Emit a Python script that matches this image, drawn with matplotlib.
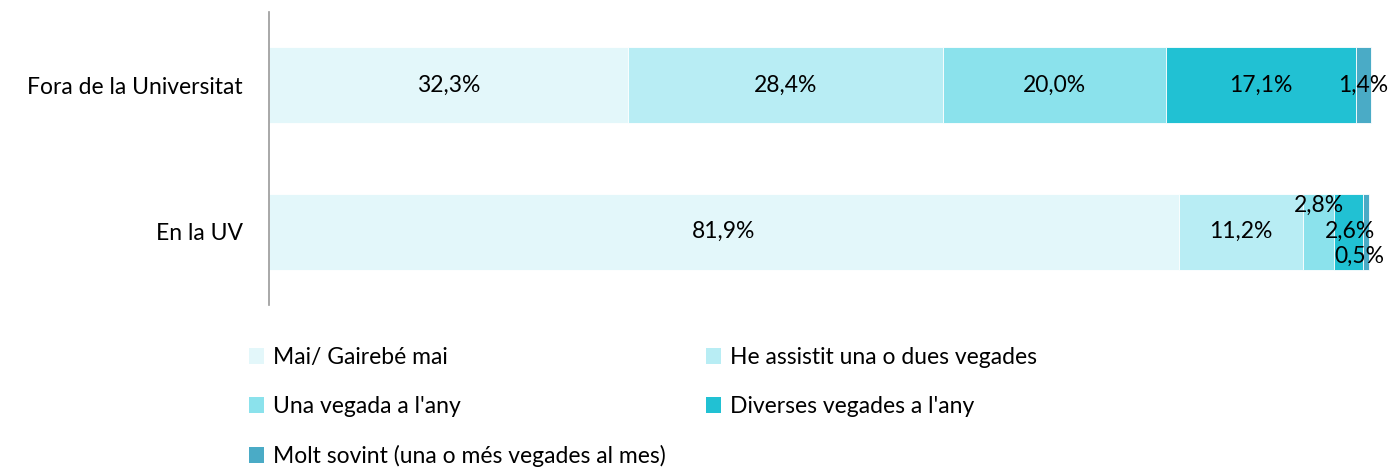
import matplotlib
matplotlib.use('Agg')
import matplotlib.pyplot as plt
from matplotlib.patches import Patch
import numpy as np

plt.rcParams['font.family'] = ['Lato', 'DejaVu Sans']

categories = ['En la UV', 'Fora de la Universitat']
series = ['Mai/ Gairebé mai', 'He assistit una o dues vegades', "Una vegada a l'any",
          "Diverses vegades a l'any", 'Molt sovint (una o més vegades al mes)']
values = {
    'Mai/ Gairebé mai': [81.9, 32.3],
    'He assistit una o dues vegades': [11.2, 28.4],
    "Una vegada a l'any": [2.8, 20.0],
    "Diverses vegades a l'any": [2.6, 17.1],
    'Molt sovint (una o més vegades al mes)': [0.5, 1.4],
}
colors = ['#E3F7FA', '#B8EDF4', '#8BE2EC', '#21C1D3', '#4AABC6']

fig = plt.figure(figsize=(13.92, 4.67), dpi=100)
ax = fig.add_axes([269 / 1392, 1 - 305 / 467, (1380 - 269) / 1392, (305 - 12) / 467])

y = np.arange(len(categories))
left = np.zeros(len(categories))
fs = 16.5
for s, c in zip(series, colors):
    v = np.array(values[s])
    ax.barh(y, v, left=left, height=0.52, color=c, edgecolor='white', linewidth=0.6, label=s)
    for i, val in enumerate(v):
        xc = left[i] + val / 2
        yc = y[i]
        # small segments in the UV bar are staggered
        if i == 0 and s == "Una vegada a l'any":
            yc = 0.18
        elif i == 0 and s == 'Molt sovint (una o més vegades al mes)':
            yc = -0.17
            xc = left[i] - 0.4
        elif i == 0 and s == "Diverses vegades a l'any":
            xc = left[i] + val / 2 + 0.1
        ax.text(xc, yc, f'{val:.1f}%'.replace('.', ','), ha='center', va='center',
                fontsize=fs, color='black')
    left = left + v

ax.set_xlim(0, 100)
ax.set_ylim(-0.5, 1.5)
ax.set_yticks(y)
ax.set_yticklabels(categories, fontsize=fs)
ax.tick_params(axis='y', length=0, pad=19)
ax.set_xticks([])
for sp in ['top', 'right', 'bottom']:
    ax.spines[sp].set_visible(False)
ax.spines['left'].set_color('#999999')
ax.spines['left'].set_linewidth(1.2)

handles = [Patch(facecolor=c, edgecolor='none') for c in colors]
order = [0, 2, 4, 1, 3]
fig.legend([handles[i] for i in order], [series[i] for i in order],
           loc='upper left', bbox_to_anchor=(240 / 1392, 1 - 338 / 467), ncol=2,
           frameon=False, fontsize=fs, handlelength=0.65, handleheight=0.65,
           handletextpad=0.4, labelspacing=1.22, columnspacing=1.75, borderaxespad=0)

fig.savefig('out.png', dpi=100)
